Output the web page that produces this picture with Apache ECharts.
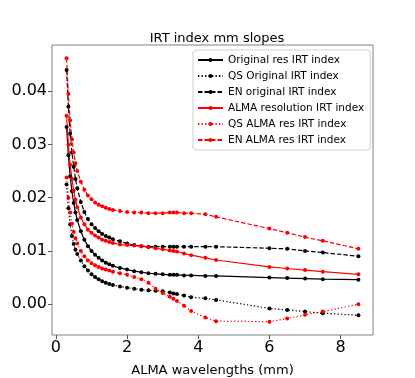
<!DOCTYPE html>
<html>
<head>
<meta charset="utf-8">
<script src="https://cdn.jsdelivr.net/npm/echarts@6/dist/echarts.min.js"></script>
<style>
  html, body { margin: 0; padding: 0; background: #fff; }
  #chart { width: 415px; height: 378px; }
</style>
</head>
<body>
<div id="chart"></div>
<script>
// ALMA wavelengths (mm)
const wavelengths = [0.3, 0.35, 0.4, 0.45, 0.5, 0.55, 0.6, 0.7, 0.8, 0.9, 1.0, 1.1, 1.2, 1.3, 1.4, 1.5, 1.6, 1.8,
  2.0, 2.2, 2.4, 2.6, 2.8, 3.0, 3.2, 3.3, 3.4, 3.6, 3.8, 4.2, 4.5, 6.0, 6.5, 7.0, 7.5, 8.5]

const origRes = [0.0333, 0.0280, 0.0240, 0.0212, 0.0190, 0.0172, 0.0158, 0.0137, 0.0121, 0.0109, 0.0100, 0.0093,
  0.0087, 0.0082, 0.0078, 0.0075, 0.0072, 0.0068, 0.0065, 0.0062, 0.0060, 0.0058, 0.0057, 0.0056, 0.0055, 0.0055,
  0.0055, 0.0054, 0.0054, 0.0053, 0.0053, 0.0050, 0.0049, 0.0048, 0.0047, 0.0046]
const qsOrig = [0.0225, 0.0180, 0.0150, 0.0128, 0.0113, 0.0102, 0.0094, 0.0082, 0.0071, 0.0063, 0.0056, 0.0051,
  0.0047, 0.0043, 0.0040, 0.0038, 0.0036, 0.0033, 0.0031, 0.0029, 0.0027, 0.0026, 0.0025, 0.0024, 0.0022, 0.0020,
  0.0019, 0.0016, 0.0013, 0.0011, 0.0008, -0.0008, -0.0011, -0.0014, -0.0017, -0.0021]
const enOrig = [0.0440, 0.0371, 0.0320, 0.0285, 0.0258, 0.0235, 0.0218, 0.0192, 0.0173, 0.0160, 0.0150, 0.0143,
  0.0137, 0.0132, 0.0128, 0.0125, 0.0122, 0.0118, 0.0114, 0.0111, 0.0109, 0.0108, 0.0108, 0.0108, 0.0108, 0.0108,
  0.0108, 0.0108, 0.0108, 0.0108, 0.0108, 0.0105, 0.0104, 0.0100, 0.0097, 0.0090]
const almaRes = [0.0354, 0.0300, 0.0262, 0.0235, 0.0213, 0.0196, 0.0182, 0.0163, 0.0150, 0.0140, 0.0134, 0.0129,
  0.0125, 0.0121, 0.0119, 0.0117, 0.0115, 0.0112, 0.0111, 0.0110, 0.0109, 0.0107, 0.0105, 0.0103, 0.0101, 0.0100,
  0.0099, 0.0095, 0.0092, 0.0087, 0.0083, 0.0070, 0.0067, 0.0064, 0.0061, 0.0056]
const qsAlma = [0.0238, 0.0200, 0.0172, 0.0151, 0.0136, 0.0124, 0.0114, 0.0100, 0.0090, 0.0082, 0.0077, 0.0073,
  0.0070, 0.0067, 0.0065, 0.0063, 0.0061, 0.0058, 0.0055, 0.0051, 0.0047, 0.0040, 0.0029, 0.0021, 0.0014, 0.0010,
  0.0006, -0.0003, -0.0013, -0.0025, -0.0032, -0.0033, -0.0027, -0.0020, -0.0014, 0.0000]
const enAlma = [0.0462, 0.0395, 0.0345, 0.0310, 0.0285, 0.0265, 0.0250, 0.0230, 0.0215, 0.0204, 0.0197, 0.0191,
  0.0187, 0.0184, 0.0181, 0.0179, 0.0177, 0.0175, 0.0173, 0.0172, 0.0172, 0.0171, 0.0171, 0.0171, 0.0172, 0.0172,
  0.0172, 0.0171, 0.0171, 0.0169, 0.0164, 0.0142, 0.0134, 0.0126, 0.0119, 0.0104]

const xTicks = [0, 2, 4, 6, 8]
const yTicks = [0, 0.01, 0.02, 0.03, 0.04]

const font = 'DejaVu Sans'
const dotted = [1.3, 2.2]
const dashed = [4.5, 2]

function mkSeries(name, vals, color, dash) {
  return {
    name: name,
    type: 'line',
    data: wavelengths.map((w, i) => [w, vals[i]]),
    symbol: 'circle',
    symbolSize: 4,
    showSymbol: true,
    itemStyle: {color: color},
    lineStyle: {color: color, width: 1.2, type: dash},
    emphasis: {disabled: true}
  }
}

let myChart = echarts.init(document.getElementById('chart'), null, {renderer: 'canvas'})
myChart.setOption({
  animation: false,
  title: {
    text: 'IRT index mm slopes',
    left: 212,
    top: 27,
    textAlign: 'center',
    textStyle: {fontFamily: font, fontSize: 13, fontWeight: 'normal', color: '#000'}
  },
  legend: {
    orient: 'vertical',
    left: 193,
    top: 50,
    itemWidth: 25,
    itemHeight: 5,
    itemGap: 4,
    padding: [4, 6, 4, 4],
    borderColor: '#d0d0d0',
    borderWidth: 1,
    borderRadius: 3,
    backgroundColor: '#fff',
    textStyle: {fontFamily: font, fontSize: 10.5, color: '#000', lineHeight: 12},
    data: ['Original res IRT index', 'QS Original IRT index', 'EN original IRT index',
      'ALMA resolution IRT index', 'QS ALMA res IRT index', 'EN ALMA res IRT index']
  },
  grid: {
    left: 52,
    top: 45,
    width: 321,
    height: 290,
    show: true,
    borderColor: '#808080',
    borderWidth: 1,
    outerBoundsMode: 'none',
    containLabel: false
  },
  xAxis: {
    type: 'value',
    min: -0.11,
    max: 8.91,
    name: 'ALMA wavelengths (mm)',
    nameLocation: 'middle',
    nameGap: 29,
    nameTextStyle: {fontFamily: font, fontSize: 13, color: '#000'},
    axisLine: {show: false, onZero: false},
    axisTick: {show: true, length: 4, lineStyle: {color: '#555'}, customValues: xTicks},
    axisLabel: {fontFamily: font, fontSize: 16, color: '#000', margin: 5, customValues: xTicks},
    splitLine: {show: false}
  },
  yAxis: {
    type: 'value',
    min: -0.0058,
    max: 0.0487,
    name: 'slopes',
    nameLocation: 'middle',
    nameGap: 41,
    nameTextStyle: {fontFamily: font, fontSize: 13, color: '#000'},
    axisLine: {show: false, onZero: false},
    axisTick: {show: true, length: 4, lineStyle: {color: '#555'}, customValues: yTicks},
    axisLabel: {fontFamily: font, fontSize: 16, color: '#000', margin: 5, customValues: yTicks,
      formatter: v => v.toFixed(2)},
    splitLine: {show: false}
  },
  series: [
    mkSeries('Original res IRT index', origRes, '#000000', 'solid'),
    mkSeries('QS Original IRT index', qsOrig, '#000000', dotted),
    mkSeries('EN original IRT index', enOrig, '#000000', dashed),
    mkSeries('ALMA resolution IRT index', almaRes, '#ff0000', 'solid'),
    mkSeries('QS ALMA res IRT index', qsAlma, '#ff0000', dotted),
    mkSeries('EN ALMA res IRT index', enAlma, '#ff0000', dashed)
  ]
})
</script>
</body>
</html>
